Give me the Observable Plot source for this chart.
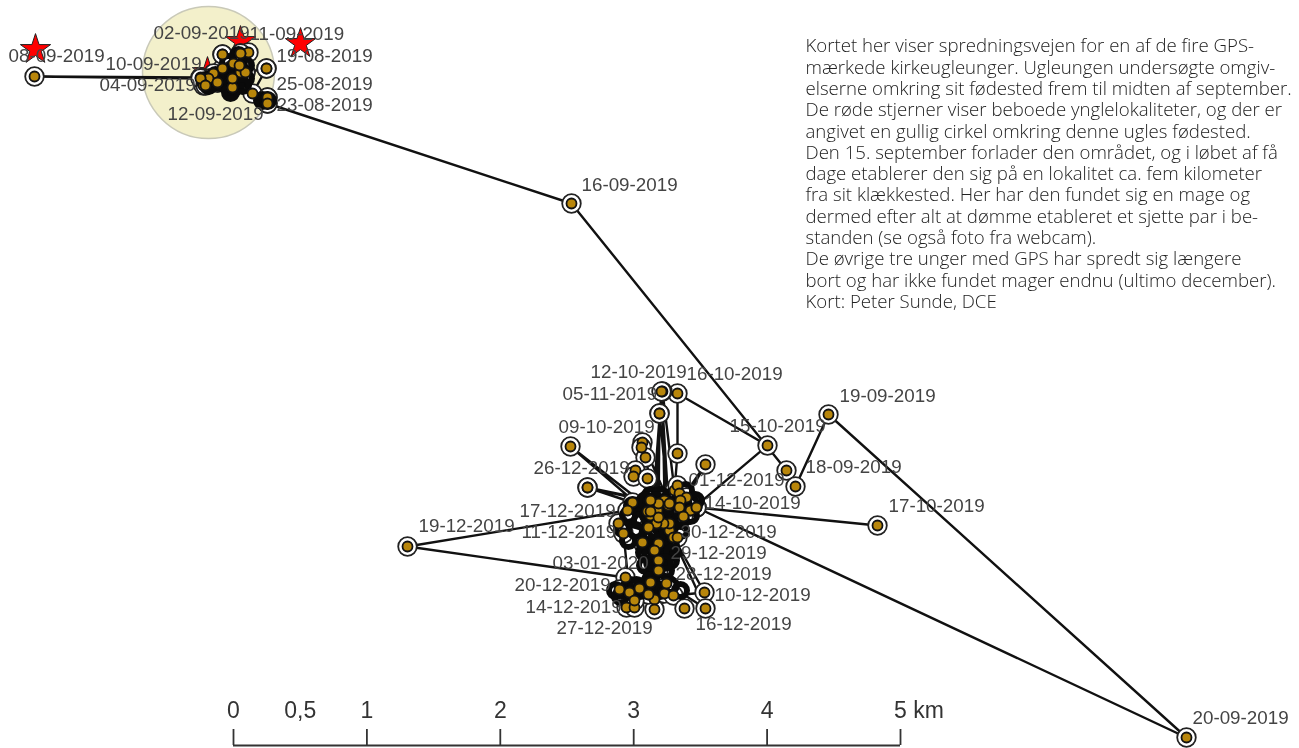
<!DOCTYPE html>
<html><head><meta charset="utf-8">
<script src="https://cdn.jsdelivr.net/npm/d3@7"></script>
<script src="https://cdn.jsdelivr.net/npm/@observablehq/plot@0.6"></script>
<style>html,body{margin:0;padding:0;background:#fff}svg{display:block;filter:blur(0.45px)}</style>
</head><body><div id="chart"></div>
<script>
// GPS fixes in map-grid units, in travel order
const trackX = [267,267,252,266,266,245,232,240,248,239,233,222,222,240,232,217,213,208,202,203,200,34,200,205,217,232,245,239,240,222,232,267,267,571,786,795,828,1186,696,690,683,767,677,677,674,662,664,655,659,668,661,652,570,650,669,642,641,645,658,659,657,635,633,647,658,587,650,587,632,647,627,407,625,619,629,639,648,654,658,664,673,704,669,705,666,684,658,654,650,626,634,648,629,623,658,673,618,642,654,634,677,679,686,705,680,679,690,696,877,696,683,669,677,663,656,648,658,650];
const trackY = [97,103,93,68,68,72,87,72,52,65,63,54,68,53,78,82,73,78,83,85,77,76,78,85,82,87,72,65,53,54,78,97,103,203,470,486,414,737,507,510,516,445,393,453,490,391,500,505,413,505,391,510,446,515,503,442,447,457,520,413,510,470,476,478,503,487,500,487,502,511,510,546,577,589,592,588,594,599,560,593,595,592,530,608,583,608,570,609,582,607,607,594,592,533,543,537,523,542,550,600,485,493,497,464,500,507,510,507,525,507,516,523,537,523,523,527,517,511];
// Fixes piled up in the two core areas, where mostly their dark rings show
const coreX = [650,660,670,680,690,685,695,675,665,655,645,650,660,670,680,640,650,660,670,645,650,660,670,645,655,665,650,660,640,650,660,670,680,625,615,632,628,622,628,635,640,645,690,680,655,665,648,662,655,668,644,660,672,652,664,636,646,620,630,205,212,220,228,236,232,240,228,238,245,232,225,245,267,262,215,208,235,242,230,238];
const coreY = [495,495,497,500,503,490,500,510,510,510,510,520,525,525,520,505,535,540,545,545,555,555,560,565,570,570,580,580,590,590,590,585,590,590,590,505,515,528,540,530,520,500,515,530,500,503,515,518,530,535,552,548,552,562,562,585,585,596,585,80,82,82,80,78,70,70,62,60,65,88,75,78,100,100,75,85,85,85,92,55];
// Occupied breeding sites
const starX = [35,240,300,207];
const starY = [49,41,43,72];
// Natal-site circle
const natalX = [208];
const natalY = [72];
// Date labels
const labelText = ["08-09-2019","02-09-2019","11-09-2019","19-08-2019","10-09-2019","04-09-2019","25-08-2019","23-08-2019","12-09-2019","16-09-2019","12-10-2019","16-10-2019","05-11-2019","19-09-2019","09-10-2019","15-10-2019","26-12-2019","01-12-2019","18-09-2019","14-10-2019","17-10-2019","17-12-2019","19-12-2019","11-12-2019","30-12-2019","29-12-2019","03-01-2020","28-12-2019","20-12-2019","10-12-2019","14-12-2019","16-12-2019","27-12-2019","20-09-2019"];
const labelX = [8,153,249,276,105,99,276,276,167,581,590,686,562,839,558,729,533,688,805,704,888,519,418,521,680,670,552,675,514,714,525,695,556,1192];
const labelY = [55,32,33,55,63,84,83,104,113,184,371,373,393,395,426,425,467,479,466,502,505,510,525,531,531,552,562,573,584,594,606,623,627,717];
// Scale bar
const barKm = [0,1,2,3,4,5];
const barLabels = ["0","0,5","1","2","3","4"];
const barLabelKm = [0,0.5,1,2,3,4];
const barLast = ["5 km"];
const gridPerKm = 133.4, barOrigin = 233, barBase = 745, barTop = 729, barText = 710;
// Caption
const caption = [
"Kortet her viser spredningsvejen for en af de fire GPS-",
"mærkede kirkeugleunger. Ugleungen undersøgte omgiv-",
"elserne omkring sit fødested frem til midten af september.",
"De røde stjerner viser beboede ynglelokaliteter, og der er",
"angivet en gullig cirkel omkring denne ugles fødested.",
"Den 15. september forlader den området, og i løbet af få",
"dage etablerer den sig på en lokalitet ca. fem kilometer",
"fra sit klækkested. Her har den fundet sig en mage og",
"dermed efter alt at dømme etableret et sjette par i be-",
"standen (se også foto fra webcam).",
"De øvrige tre unger med GPS har spredt sig længere",
"bort og har ikke fundet mager endnu (ultimo december).",
"Kort: Peter Sunde, DCE"];

const track = trackX.map((x,i)=>({x,y:trackY[i]}));
const core = coreX.map((x,i)=>({x,y:coreY[i]}));
const stars = starX.map((x,i)=>({x,y:starY[i]}));
const labels = labelText.map((t,i)=>({t,x:labelX[i],y:labelY[i]}));
const kmX = km => barOrigin + km*gridPerKm;

const plot = Plot.plot({
  width:1299,height:748,margin:0,
  x:{domain:[0,1299],range:[0,1299],axis:null},
  y:{domain:[0,748],range:[0,748],axis:null},
  style:{background:"#fff"},
  marks:[
    Plot.dot(natalX.map((x,i)=>({x,y:natalY[i]})),{x:"x",y:"y",r:66,fill:"#f3f0cb",stroke:"#c9c9b8",strokeWidth:1.5}),
    Plot.dot(stars,{x:"x",y:"y",symbol:"star",r:9.5,fill:"#f00",stroke:"#222",strokeWidth:1}),
    Plot.line(track,{x:"x",y:"y",stroke:"#111",strokeWidth:2.4,curve:"linear"}),
    Plot.dot(track,{x:"x",y:"y",r:9.3,fill:"#fff",stroke:"#222",strokeWidth:1.8}),
    Plot.dot(core,{x:"x",y:"y",r:6.5,fill:"none",stroke:"#0a0a0a",strokeWidth:6}),
    Plot.dot(track,{x:"x",y:"y",r:5,fill:"#b8860b",stroke:"#111",strokeWidth:1.8}),
    Plot.text(labels,{x:"x",y:"y",text:"t",textAnchor:"start",fontSize:18.8,fontFamily:"Liberation Sans",fill:"#444"}),
    Plot.ruleY([barBase],{x1:kmX(0),x2:kmX(5),stroke:"#333",strokeWidth:1.8}),
    Plot.ruleX(barKm,{x:kmX,y1:barTop,y2:barBase,stroke:"#333",strokeWidth:1.8}),
    Plot.text(barLabels,{x:(d,i)=>kmX(barLabelKm[i]),y:barText,text:d=>d,textAnchor:"middle",fontSize:23,fontFamily:"Liberation Sans",fill:"#333"}),
    Plot.text(barLast,{x:()=>kmX(5)-6.5,y:barText,text:d=>d,textAnchor:"start",fontSize:23,fontFamily:"Liberation Sans",fill:"#333"}),
    Plot.text([caption.join("\n")],{x:()=>805,y:()=>36.8,text:d=>d,textAnchor:"start",lineAnchor:"top",lineHeight:1.145,fontSize:18.6,fontFamily:"Open Sans",fontWeight:300,fill:"#222"})
  ]
});
document.getElementById("chart").append(plot);
</script></body></html>
